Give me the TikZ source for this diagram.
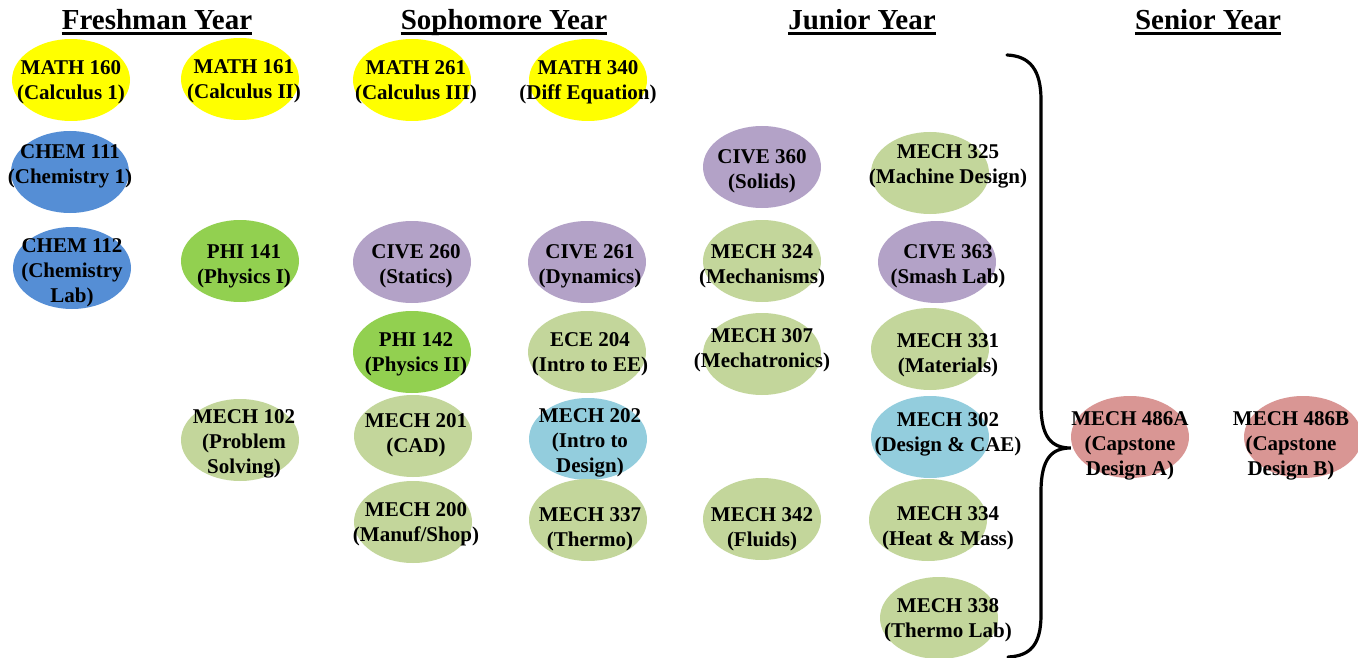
\documentclass[tikz,border=0pt]{standalone}
\usepackage{fontspec}
\setmainfont{Liberation Serif}
\usetikzlibrary{positioning, shapes.geometric, backgrounds}
\definecolor{cYellow}{HTML}{FFFF00}
\definecolor{cBlue}{HTML}{558ED5}
\definecolor{cGreen}{HTML}{92D050}
\definecolor{cLGreen}{HTML}{C3D69B}
\definecolor{cPurple}{HTML}{B3A2C7}
\definecolor{cLBlue}{HTML}{93CDDD}
\definecolor{cRed}{HTML}{D99694}

\begin{document}
\begin{tikzpicture}[
    x=1pt, y=-1pt,
    % --- Node styles ---
    course/.style={
        ellipse, draw=none, inner sep=0pt,
        minimum width=118pt, minimum height=82pt
    },
    txt/.style={
        font=\fontsize{21}{25}\selectfont\bfseries,
        align=center, inner sep=0pt, yshift=-2pt
    },
    hdr/.style={font=\fontsize{29}{32}\selectfont\bfseries, inner sep=0pt, anchor=base},
    % --- Line styles ---
    uline/.style={line width=3pt},
    brc/.style={line width=3.2pt, line cap=round},
]
\useasboundingbox (0,0) rectangle (1358,658);

% =============================================
% YEAR HEADINGS
% =============================================

\node[hdr] (fresh) at (157,30) {Freshman Year};
\node[hdr] (soph)  at (504,30) {Sophomore Year};
\node[hdr] (jun)   at (862,30) {Junior Year};
\node[hdr] (sen)   at (1208,30) {Senior Year};

\foreach \h in {fresh, soph, jun, sen}
    \draw[uline] ([yshift=-4pt]\h.base west) -- ([yshift=-4pt]\h.base east);

% =============================================
% FRESHMAN
% =============================================

\node[course, fill=cYellow, label={[txt]center:{MATH 160\\(Calculus 1)}}] (math160) at (71,80) {};
\node[course, fill=cYellow, label={[txt, xshift=4pt]center:{MATH 161\\(Calculus II)}}] (math161) at (240,79) {};
\node[course, fill=cBlue, label={[txt, yshift=8pt]center:{CHEM 111\\(Chemistry 1)}}] (chem111) at (70,172) {};
\node[course, fill=cBlue, label={[txt, yshift=-3pt]center:{CHEM 112\\(Chemistry\\Lab)}}] (chem112) at (72,268) {};
\node[course, fill=cGreen, label={[txt, xshift=4pt, yshift=-3pt]center:{PHI 141\\(Physics I)}}] (phi141) at (240,261) {};
\node[course, fill=cLGreen, label={[txt, xshift=4pt, yshift=-2pt]center:{MECH 102\\(Problem\\Solving)}}] (mech102) at (240,440) {};

% =============================================
% SOPHOMORE
% =============================================

\node[course, fill=cYellow, label={[txt, xshift=4pt]center:{MATH 261\\(Calculus III)}}] (math261) at (412,80) {};
\node[course, fill=cYellow, label={[txt]center:{MATH 340\\(Diff Equation)}}] (math340) at (588,80) {};
\node[course, fill=cPurple, label={[txt, xshift=4pt, yshift=-2pt]center:{CIVE 260\\(Statics)}}] (cive260) at (412,262) {};
\node[course, fill=cPurple, label={[txt, xshift=3pt, yshift=-2pt]center:{CIVE 261\\(Dynamics)}}] (cive261) at (587,262) {};
\node[course, fill=cGreen, label={[txt, xshift=4pt]center:{PHI 142\\(Physics II)}}] (phi142) at (412,352) {};
\node[course, fill=cLGreen, label={[txt, xshift=3pt]center:{ECE 204\\(Intro to EE)}}] (ece204) at (587,352) {};
\node[course, fill=cLGreen, label={[txt, xshift=3pt, yshift=3pt]center:{MECH 201\\(CAD)}}] (mech201) at (413,436) {};
\node[course, fill=cLBlue, label={[txt, xshift=2pt, yshift=-2pt]center:{MECH 202\\(Intro to\\Design)}}] (mech202) at (588,439) {};
\node[course, fill=cLGreen, label={[txt, xshift=3pt]center:{MECH 200\\(Manuf/Shop)}}] (mech200) at (413,522) {};
\node[course, fill=cLGreen, label={[txt, xshift=2pt, yshift=-7pt]center:{MECH 337\\(Thermo)}}] (mech337) at (588,520) {};

% =============================================
% JUNIOR
% =============================================

\node[course, fill=cPurple, label={[txt, yshift=-2pt]center:{CIVE 360\\(Solids)}}] (cive360) at (762,167) {};
\node[course, fill=cLGreen, label={[txt, yshift=-3pt]center:{MECH 324\\(Mechanisms)}}] (mech324) at (762,261) {};
\node[course, fill=cLGreen, label={[txt, yshift=6pt]center:{MECH 307\\(Mechatronics)}}] (mech307) at (762,354) {};
\node[course, fill=cLGreen, label={[txt, yshift=-8pt]center:{MECH 342\\(Fluids)}}] (mech342) at (762,519) {};

\node[course, fill=cLGreen, label={[txt, xshift=18pt, yshift=9pt]center:{MECH 325\\(Machine Design)}}] (mech325) at (930,173) {};
\node[course, fill=cPurple, label={[txt, xshift=11pt, yshift=-2pt]center:{CIVE 363\\(Smash Lab)}}] (cive363) at (937,262) {};
\node[course, fill=cLGreen, label={[txt, xshift=18pt, yshift=-4pt]center:{MECH 331\\(Materials)}}] (mech331) at (930,349) {};
\node[course, fill=cLBlue, label={[txt, xshift=18pt, yshift=5pt]center:{MECH 302\\(Design \& CAE)}}] (mech302) at (930,437) {};
\node[course, fill=cLGreen, label={[txt, xshift=20pt, yshift=-6pt]center:{MECH 334\\(Heat \& Mass)}}] (mech334) at (928,520) {};
\node[course, fill=cLGreen, label={[txt, xshift=9pt]center:{MECH 338\\(Thermo Lab)}}] (mech338) at (939,618) {};

% =============================================
% SENIOR
% =============================================

\node[course, fill=cRed, label={[txt, yshift=-7pt]center:{MECH 486A\\(Capstone\\Design A)}}] (mech486a) at (1130,437) {};
\node[course, fill=cRed, label={[txt, xshift=-12pt, yshift=-7pt]center:{MECH 486B\\(Capstone\\Design B)}}] (mech486b) at (1303,437) {};

% =============================================
% BRACE: junior courses lead into capstone
% =============================================

\coordinate (brTop) at (1007,55);
\coordinate (brBot) at (1008,657);
\coordinate (brTip) at ([yshift=-11pt]mech486a.west);

\draw[brc] (brTop) .. controls (1030,56) and (1041,70) .. (1041,100)
    -- (1041,405) .. controls (1041,438) and (1052,448) .. (brTip)
    .. controls (1052,448) and (1041,458) .. (1041,492)
    -- (1041,615) .. controls (1041,645) and (1030,656) .. (brBot);

\end{tikzpicture}
\end{document}
